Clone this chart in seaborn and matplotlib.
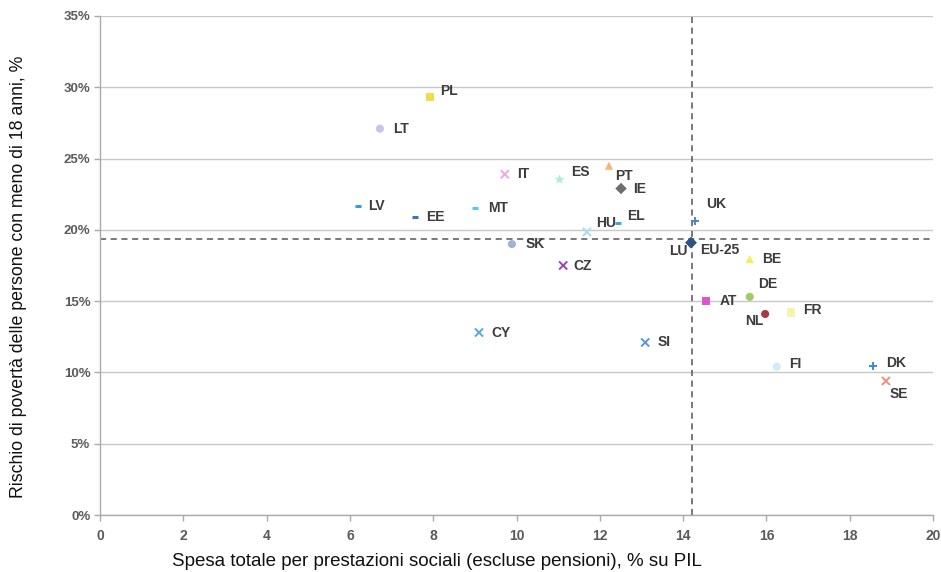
import pandas as pd
import seaborn as sns
from matplotlib import pyplot as plt
from matplotlib.ticker import FuncFormatter

FIG_SIZE = (9.41, 5.72)

# country codes and values
countries = ["PL", "LT", "IT", "ES", "PT", "IE", "LV", "EE", "MT", "HU", "EL",
             "UK", "SK", "LU", "EU-25", "CZ", "BE", "DE", "AT", "NL", "FR",
             "CY", "SI", "FI", "DK", "SE"]
spending = [7.92, 6.72, 9.72, 11.02, 12.22, 12.51, 6.19, 7.56, 9.0, 11.69, 12.44,
            14.29, 9.89, 14.19, 14.19, 11.12, 15.6, 15.6, 14.55, 15.97, 16.6,
            9.1, 13.09, 16.25, 18.56, 18.87]
poverty = [29.3, 27.1, 23.9, 23.6, 24.5, 22.9, 21.7, 20.9, 21.5, 19.85, 20.5,
           20.6, 19.0, 19.1, 19.1, 17.5, 17.95, 15.3, 15.0, 14.1, 14.2,
           12.8, 12.1, 10.4, 10.45, 9.4]
eu_spending = 14.21
eu_poverty = 19.35

colors = {"PL": "#f2dc4e", "LT": "#c4c4ee", "IT": "#f0a6e6", "ES": "#a6f0d6",
          "PT": "#f7b274", "IE": "#6e6e6e", "LV": "#3a9ad8", "EE": "#3574c6",
          "MT": "#56c8ec", "HU": "#a8dcec", "EL": "#3fa6dc", "UK": "#4a86c8",
          "SK": "#a4b2d8", "LU": "#2f5186", "EU-25": "#2f5186", "CZ": "#9a46ae",
          "BE": "#f4ee5a", "DE": "#9ccc6a", "AT": "#dc56cc", "NL": "#a83a48",
          "FR": "#f6f4a8", "CY": "#56a8dc", "SI": "#5a98dc", "FI": "#cdeef6",
          "DK": "#3a88dc", "SE": "#f0907e"}
markers = {"PL": "s", "LT": "o", "IT": "x", "ES": "*", "PT": "^", "IE": "D",
           "LV": "_", "EE": "_", "MT": "_", "HU": "x", "EL": "_", "UK": "+",
           "SK": "o", "LU": "D", "EU-25": "D", "CZ": "x", "BE": "^", "DE": "o",
           "AT": "s", "NL": "o", "FR": "s", "CY": "x", "SI": "x", "FI": "o",
           "DK": "+", "SE": "x"}
# label offset in pixels (dx, dy) and alignment
label_pos = {"PL": (10, 6, "left"), "LT": (13, 0, "left"), "IT": (12, 0, "left"),
             "ES": (12, 7, "left"), "PT": (6, -10, "left"), "IE": (12, 0, "left"),
             "LV": (10, 0, "left"), "EE": (11, 0, "left"), "MT": (13, 0, "left"),
             "HU": (9, 9, "left"), "EL": (9, 7, "left"), "UK": (11, 17, "left"),
             "SK": (14, 0, "left"), "LU": (-3, -8, "right"), "EU-25": (9, -7, "left"),
             "CZ": (10, 0, "left"), "BE": (12, 0, "left"), "DE": (8, 13, "left"),
             "AT": (14, 0, "left"), "NL": (-2, -7, "right"), "FR": (12, 3, "left"),
             "CY": (12, 0, "left"), "SI": (12, 0, "left"), "FI": (12, 3, "left"),
             "DK": (13, 3, "left"), "SE": (4, -13, "left")}

df = pd.DataFrame({"country": countries, "spending": spending, "poverty": poverty})
df["marker"] = df["country"].map(markers)

sns.set_theme(style="white")
plt.rcParams["font.family"] = ["Liberation Sans", "DejaVu Sans"]

fig = plt.figure(figsize=FIG_SIZE, dpi=100)
ax = fig.add_axes([100 / 941, 1 - 515 / 572, 833 / 941, 499 / 572])

for marker, group in df.groupby("marker"):
    lw = 1.4 if marker in ("x", "+") else (2.2 if marker == "_" else 0)
    size = 60 if marker == "*" else (22 if marker == "_" else 34)
    sns.scatterplot(data=group, x="spending", y="poverty", hue="country",
                    palette=colors, marker=marker, s=size, linewidth=lw,
                    legend=False, ax=ax, zorder=3)

for _, row in df.iterrows():
    dx, dy, ha = label_pos[row["country"]]
    ax.annotate(row["country"], (row["spending"], row["poverty"]),
                xytext=(dx * 0.72, dy * 0.72), textcoords="offset points",
                ha=ha, va="center", fontsize=10, fontweight="bold",
                color="#3c3c3c", zorder=4)

ax.axvline(eu_spending, color="#555555", linestyle=(0, (4, 3)), linewidth=1.1, zorder=2)
ax.axhline(eu_poverty, color="#555555", linestyle=(0, (4, 3)), linewidth=1.1, zorder=2)

ax.set_xlim(0, 20)
ax.set_ylim(0, 35)
ax.set_xticks(range(0, 21, 2))
ax.set_yticks(range(0, 36, 5))
ax.yaxis.set_major_formatter(FuncFormatter(lambda v, p: "{:d}%".format(int(v))))
ax.yaxis.grid(True, color="#c8c8c8", linewidth=1)
ax.xaxis.grid(False)
for side in ("top", "right"):
    ax.spines[side].set_visible(False)
for side in ("left", "bottom"):
    ax.spines[side].set_color("#aaaaaa")
    ax.spines[side].set_linewidth(1)
ax.tick_params(axis="both", which="major", length=4, width=1, color="#aaaaaa",
               labelsize=9.5, labelcolor="#5a5a5a", direction="out", bottom=True, left=True)
ax.tick_params(axis="x", pad=6, labelsize=10)
ax.tick_params(axis="y", pad=3)
for lab in ax.get_xticklabels() + ax.get_yticklabels():
    lab.set_fontweight("bold")
ax.set_xlabel("")
ax.set_ylabel("")

fig.text(437 / 941, 1 - 561 / 572, "Spesa totale per prestazioni sociali (escluse pensioni), % su PIL",
         ha="center", va="center", fontsize=13.5, color="#111111")
fig.text(19 / 941, 1 - 277 / 572, "Rischio di povertà delle persone con meno di 18 anni, %",
         ha="center", va="center", rotation=90, fontsize=12.8, color="#111111")

fig.savefig("out.png", dpi=100)
